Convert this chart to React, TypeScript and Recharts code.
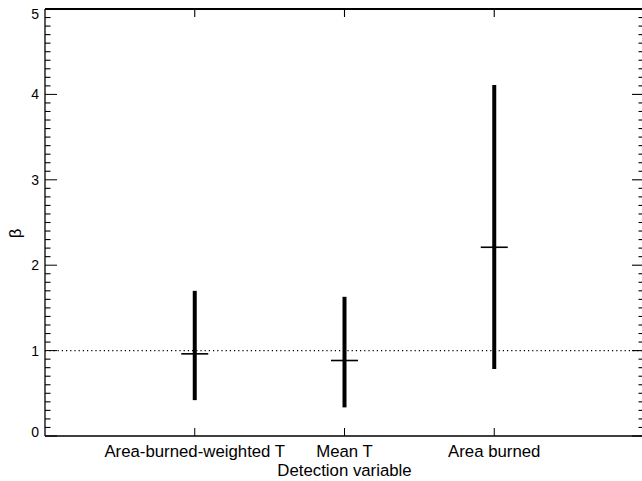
import React from 'react';
import { ComposedChart, XAxis, YAxis, Scatter, ErrorBar, ReferenceLine, Label } from 'recharts';

// ---- data ----
const categories = ['Area-burned-weighted T', 'Mean T', 'Area burned'];
const categoryPositions = [1, 2, 3];
const medians = [0.962, 0.884, 2.21];
const lows = [0.42, 0.335, 0.785];
const highs = [1.70, 1.63, 4.11];
const xDomain = [0, 4];
const yDomain = [0, 5];
const yMajorTicks = [0, 1, 2, 3, 4, 5];
const yMinorTicks = [
  0.1, 0.2, 0.3, 0.4, 0.5, 0.6, 0.7, 0.8, 0.9,
  1.1, 1.2, 1.3, 1.4, 1.5, 1.6, 1.7, 1.8, 1.9,
  2.1, 2.2, 2.3, 2.4, 2.5, 2.6, 2.7, 2.8, 2.9,
  3.1, 3.2, 3.3, 3.4, 3.5, 3.6, 3.7, 3.8, 3.9,
  4.1, 4.2, 4.3, 4.4, 4.5, 4.6, 4.7, 4.8, 4.9,
];
const referenceValue = 1;
const xTitle = 'Detection variable';
const yTitle = 'β';

const data = categories.map((name, i) => ({
  name,
  x: categoryPositions[i],
  median: medians[i],
  err: [medians[i] - lows[i], highs[i] - medians[i]],
}));

// tick-mark tables for the frame (left minor, right side, top side)
const leftMinorMarks = yMinorTicks.map((v) => ({ x: xDomain[0], y: v, kind: 'minor' }));
const rightMarks = [
  ...yMajorTicks.map((v) => ({ x: xDomain[1], y: v, kind: 'major' })),
  ...yMinorTicks.map((v) => ({ x: xDomain[1], y: v, kind: 'minor' })),
];
const topMarks = categoryPositions.map((c) => ({ x: c, y: yDomain[1], kind: 'top' }));

// ---- layout / style ----
const FONT = '"Liberation Sans", Arial, Helvetica, sans-serif';
const CHART_W = 646;
const CHART_H = 481;
const PLOT_TOP = 9;
const LEFT_W = 45;
const BOTTOM_H = 45;
const PLOT_BOTTOM = CHART_H - BOTTOM_H;
const MAJOR_LEN = 12;
const MINOR_LEN = 5.5;
const X_TICK_LEN = 8;

const LeftMajorTick = (props: any) => {
  const { x, y, payload } = props;
  const v = payload.value;
  const cy = Math.min(Math.max(y, PLOT_TOP + 5.3), PLOT_BOTTOM - 4);
  return (
    <g>
      <line x1={x} x2={x + MAJOR_LEN} y1={y} y2={y} stroke="#000" strokeWidth={1} />
      <text x={x - 6} y={cy} dy="0.36em" textAnchor="end" fontSize={14} fontFamily={FONT} fill="#000">
        {v}
      </text>
    </g>
  );
};

const BottomTick = (props: any) => {
  const { x, y, payload } = props;
  const idx = categoryPositions.indexOf(payload.value);
  return (
    <g>
      <line x1={x} x2={x} y1={y} y2={y - X_TICK_LEN} stroke="#000" strokeWidth={1} />
      <text x={x} y={y + 20.5} textAnchor="middle" fontSize={16.8} fontFamily={FONT} fill="#000">
        {idx >= 0 ? categories[idx] : ''}
      </text>
    </g>
  );
};

const LeftMark = (props: any) => {
  const { cx, cy } = props;
  if (cx == null || cy == null) return <g />;
  return (
    <g>
      <line x1={cx} x2={cx + MINOR_LEN} y1={cy} y2={cy} stroke="#000" strokeWidth={1.1} />
    </g>
  );
};

const RightMark = (props: any) => {
  const { cx, cy, payload } = props;
  if (cx == null || cy == null) return <g />;
  const len = payload && payload.kind === 'major' ? MAJOR_LEN : MINOR_LEN;
  return (
    <g>
      <line x1={cx} x2={cx - len} y1={cy} y2={cy} stroke="#000" strokeWidth={1.1} />
    </g>
  );
};

const TopMark = (props: any) => {
  const { cx, cy } = props;
  if (cx == null || cy == null) return <g />;
  return (
    <g>
      <line x1={cx} x2={cx} y1={cy} y2={cy + X_TICK_LEN} stroke="#000" strokeWidth={1.1} />
    </g>
  );
};

const XTitle = (props: any) => {
  const vb = props.viewBox || {};
  return (
    <text x={vb.x + vb.width / 2} y={vb.y + 40} textAnchor="middle" fontSize={16.8} fontFamily={FONT} fill="#000">
      {xTitle}
    </text>
  );
};

const YTitle = (props: any) => {
  const vb = props.viewBox || {};
  const cx = 21;
  const cy = vb.y + vb.height / 2 + 11;
  return (
    <text x={cx} y={cy} transform={`rotate(-90, ${cx}, ${cy})`} textAnchor="middle" fontSize={16.8} fontFamily={FONT} fill="#000">
      {yTitle}
    </text>
  );
};

const MedianMark = (props: any) => {
  const { cx, cy } = props;
  if (cx == null || cy == null) return <g />;
  return (
    <g>
      <line x1={cx - 13.5} x2={cx + 13.5} y1={cy} y2={cy} stroke="#000" strokeWidth={1.6} />
    </g>
  );
};

export default function App() {
  const axisLine = { stroke: '#000', strokeWidth: 1.3 };
  return (
    <div style={{ position: 'absolute', left: 0, top: 0, width: 642, height: 481, overflow: 'hidden', background: '#fff' }}>
      <ComposedChart
        width={CHART_W}
        height={CHART_H}
        data={data}
        margin={{ top: PLOT_TOP, right: 2, left: 0, bottom: 0 }}
      >
        <XAxis
          dataKey="x"
          type="number"
          orientation="bottom"
          domain={xDomain}
          ticks={categoryPositions}
          height={BOTTOM_H}
          tickSize={0}
          tickMargin={0}
          tickLine={false}
          interval={0}
          tick={<BottomTick />}
          axisLine={axisLine}
        >
          <Label content={<XTitle />} />
        </XAxis>
        <YAxis
          type="number"
          orientation="left"
          domain={yDomain}
          ticks={yMajorTicks}
          width={LEFT_W}
          tickSize={0}
          tickMargin={0}
          tickLine={false}
          interval={0}
          tick={<LeftMajorTick />}
          axisLine={axisLine}
        >
          <Label content={<YTitle />} />
        </YAxis>
        <ReferenceLine y={yDomain[1]} stroke="#000" strokeWidth={2} />
        <ReferenceLine x={xDomain[1]} stroke="#000" strokeWidth={2} />
        <ReferenceLine
          y={referenceValue}
          stroke="#000"
          strokeWidth={1.2}
          strokeDasharray="1.2 3"
        />
        <Scatter data={leftMinorMarks} dataKey="y" shape={<LeftMark />} isAnimationActive={false} />
        <Scatter data={rightMarks} dataKey="y" shape={<RightMark />} isAnimationActive={false} />
        <Scatter data={topMarks} dataKey="y" shape={<TopMark />} isAnimationActive={false} />
        <Scatter data={data} dataKey="median" shape={<MedianMark />} isAnimationActive={false}>
          <ErrorBar dataKey="err" direction="y" width={0} stroke="#000" strokeWidth={4} isAnimationActive={false} />
        </Scatter>
      </ComposedChart>
    </div>
  );
}
